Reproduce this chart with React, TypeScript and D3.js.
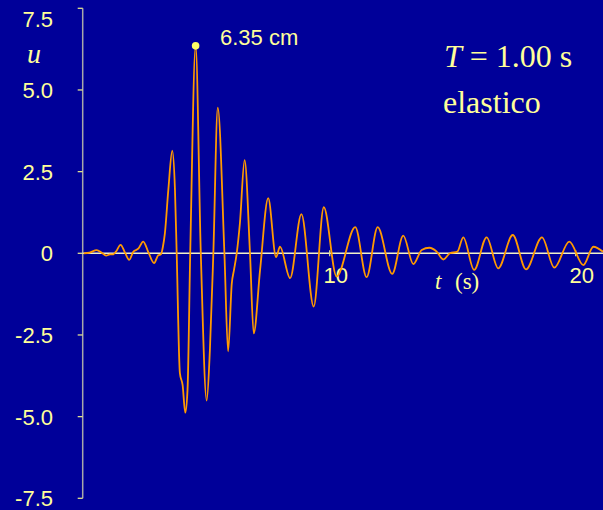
import React from "react";
import * as d3 from "d3";

// time (s) and displacement (cm)
const times = [
  0, 0.24, 0.53, 0.73, 0.91, 1.07, 1.2, 1.31, 1.5, 1.68, 1.85, 2.02, 2.22, 2.42,
  2.63, 2.86, 3.03, 3.14, 3.22, 3.3, 3.44, 3.6, 3.71, 3.78, 3.91, 4.02, 4.13,
  4.22, 4.33, 4.55, 4.76, 5.0, 5.13, 5.27, 5.45, 5.72, 5.87, 6.02, 6.11, 6.22,
  6.35, 6.54, 6.76, 6.91, 7.17, 7.5, 7.82, 7.98, 8.39, 8.85, 9.35, 9.76, 10.28,
  11.04, 11.5, 11.95, 12.54, 12.99, 13.4, 13.74, 14.05, 14.35, 14.62, 14.89,
  15.19, 15.43, 15.87, 16.38, 16.85, 17.44, 17.98, 18.63, 19.13, 19.74, 20.31,
  20.72, 21.11,
];
const displ = [
  0, 0.02, 0.1, 0.02, -0.07, -0.03, -0.03, 0.05, 0.26, 0.02, -0.2, 0.05, 0.14,
  0.36, 0.03, -0.3, -0.06, -0.03, 0.2, 0.61, 1.94, 3.14, 1.94, 0, -3.67, -4.03,
  -4.88, -4.18, 0, 6.35, 0, -4.51, -2.96, 0, 4.46, 0, -3.0, -0.92, -0.51, 0,
  0.92, 2.85, 0, -2.45, -0.51, 1.69, -0.12, 0.2, -0.76, 1.2, -1.63, 1.41, -0.71,
  0.8, -0.73, 0.8, -0.63, 0.54, -0.33, 0.1, 0.17, 0.05, -0.19, 0, 0.05, 0.49,
  -0.51, 0.49, -0.46, 0.56, -0.49, 0.49, -0.44, 0.36, -0.36, 0.2, 0.05,
];
const yTicks = [7.5, 5.0, 2.5, 0, -2.5, -5.0, -7.5];
const xTicks = [10, 20];
const peakT = 4.55;
const peakU = 6.35;

const W = 603;
const H = 510;
const BG = "#000099";
const YELLOW = "#ffff99";
const SANS = "'Liberation Sans', Arial, sans-serif";
const SERIF = "'Liberation Serif', 'Times New Roman', serif";

export default function App() {
  const x = d3.scaleLinear().domain([0, 20]).range([83.7, 575.7]);
  const y = d3.scaleLinear().domain([-7.5, 7.5]).range([498.3, 8.3]);
  const axisX = 82.7;

  const pts = times.map((t, i) => [t, displ[i]] as [number, number]);
  const line = d3
    .line<[number, number]>()
    .x((d) => x(d[0]))
    .y((d) => y(d[1]))
    .curve(d3.curveMonotoneX);

  return (
    <svg
      width={W}
      height={H}
      style={{ position: "absolute", left: 0, top: 0, display: "block" }}
    >
      <rect width={W} height={H} fill={BG} />

      {/* y axis */}
      <line x1={axisX} x2={axisX} y1={y(7.5)} y2={y(-7.5)} stroke="#a8a8a8" strokeWidth={1.5} />
      {yTicks.map((v) => (
        <g key={v}>
          <line x1={axisX - 5} x2={axisX} y1={y(v)} y2={y(v)} stroke="#e0e090" strokeWidth={1.3} />
          <text
            x={53}
            y={Math.max(y(v), 19)}
            dy="0.36em"
            textAnchor="end"
            fontFamily={SANS}
            fontSize={22}
            fill={YELLOW}
          >
            {v === 0 ? "0" : v.toFixed(1)}
          </text>
        </g>
      ))}

      {/* zero line / time axis */}
      <line x1={axisX} x2={W} y1={y(0)} y2={y(0)} stroke="#f0f0c8" strokeWidth={1.5} />
      {xTicks.map((t) => (
        <g key={t}>
          <line x1={x(t)} x2={x(t)} y1={y(0) - 3} y2={y(0) + 3} stroke="#e0e090" strokeWidth={1.3} />
          <text
            x={x(t) + 6}
            y={283}
            textAnchor="middle"
            fontFamily={SANS}
            fontSize={22}
            fill={YELLOW}
          >
            {t}
          </text>
        </g>
      ))}

      <path d={line(pts) ?? ""} fill="none" stroke="#ff9900" strokeWidth={1.8} strokeLinejoin="round" />

      {/* peak marker */}
      <circle cx={x(peakT)} cy={y(peakU)} r={3.8} fill="#ffff66" />
      <text x={220} y={45} fontFamily={SANS} fontSize={22} fill={YELLOW}>
        {peakU.toFixed(2)} cm
      </text>

      {/* labels */}
      <text x={27} y={63} fontFamily={SERIF} fontStyle="italic" fontSize={28} fill={YELLOW}>
        u
      </text>
      <text x={435} y={289} fontFamily={SERIF} fontSize={23} fill={YELLOW}>
        <tspan fontStyle="italic">t</tspan>
        <tspan x={455}>(s)</tspan>
      </text>
      <text x={444} y={67} fontFamily={SERIF} fontSize={32} fill={YELLOW}>
        <tspan fontStyle="italic">T</tspan>
        <tspan> = 1.00 s</tspan>
      </text>
      <text x={443} y={113} fontFamily={SERIF} fontSize={32} fill={YELLOW}>
        elastico
      </text>
    </svg>
  );
}
